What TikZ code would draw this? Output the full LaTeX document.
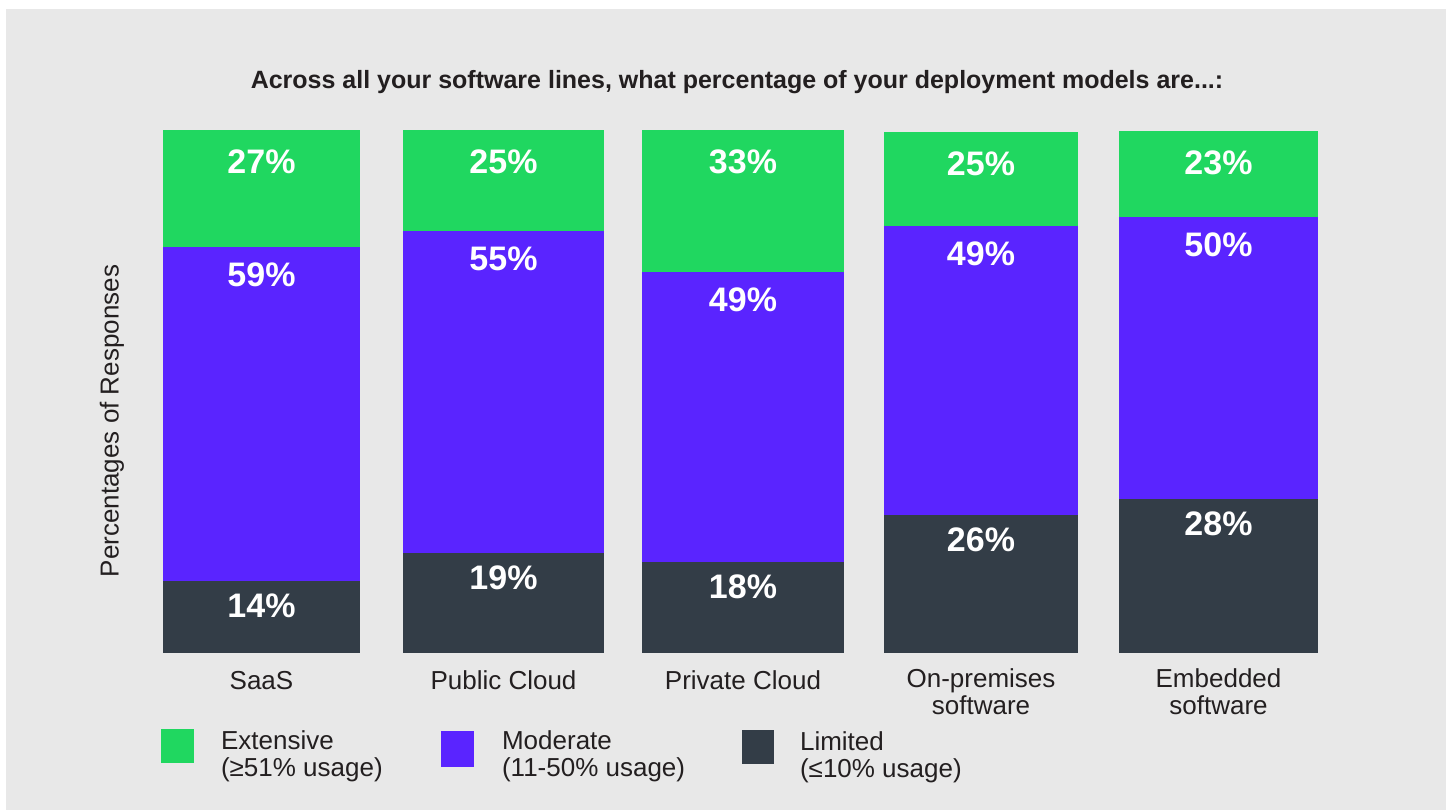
\documentclass[tikz,border=0pt]{standalone}
\usepackage{fontspec}
\setmainfont{Liberation Sans}
\definecolor{extgreen}{HTML}{20D760}
\definecolor{modpurple}{HTML}{5A24FF}
\definecolor{limgrey}{HTML}{333D47}
\definecolor{panel}{HTML}{E8E8E8}
\definecolor{ink}{HTML}{231F20}
\begin{document}
\begin{tikzpicture}[x=0.5pt,y=-0.5pt]
  \tikzstyle{pct}=[text=white,font=\fontsize{17}{17}\selectfont\bfseries]
  \tikzstyle{cat}=[text=ink,font=\fontsize{13}{13.5}\selectfont,align=center]
  \tikzstyle{key}=[text=ink,font=\fontsize{13}{13.5}\selectfont,align=left,anchor=west]
  \useasboundingbox (0,0) rectangle (1446,810);
  \fill[white] (0,0) rectangle (1446,810);
  \fill[panel] (6,9) rectangle (1446,810);
  \node[text=ink,font=\fontsize{12.5}{13}\selectfont\bfseries] (title) at (737,82)
    {Across all your software lines, what percentage of your deployment models are...:};
  \node[cat,rotate=90] (ylab) at (112,421) {Percentages of Responses};
  % bars: left/right/green top/purple top/dark top/values
  \foreach \l/\r/\g/\m/\d/\pg/\pm/\pd [count=\i] in
      {163/360/130/247/581/27/59/14, 403/604/130/231/553/25/55/19,
       642/844/130/272/562/33/49/18, 884/1078/132/226/515/25/49/26,
       1119/1318/131/217/499/23/50/28}
  {
    \fill[extgreen] (\l,\g) rectangle (\r,\m);
    \fill[modpurple] (\l,\m) rectangle (\r,\d);
    \fill[limgrey] (\l,\d) rectangle (\r,653);
    \node[pct] (ext-\i) at ({(\l+\r)/2},\g+32) {\pg\%};
    \node[pct] (mod-\i) at ({(\l+\r)/2},\m+28) {\pm\%};
    \node[pct] (lim-\i) at ({(\l+\r)/2},\d+25) {\pd\%};
    \coordinate (base-\i) at ({(\l+\r)/2},689);
  }
  \node[cat,anchor=base] (saas) at (base-1) {SaaS};
  \node[cat,anchor=base] (public) at (base-2) {Public Cloud};
  \node[cat,anchor=base] (private) at (base-3) {Private Cloud};
  \node[cat,anchor=base,yshift=-12.5pt] (onprem) at (base-4) {On-premises\\software};
  \node[cat,anchor=base,yshift=-12.5pt] (embedded) at (base-5) {Embedded\\software};
  % legend
  \fill[extgreen] (161,729) rectangle (194,763);
  \node[key] (extkey) at (214,756) {Extensive\\(≥51\% usage)};
  \fill[modpurple] (441,731) rectangle (474,767);
  \node[key] (modkey) at (495,756) {Moderate\\(11-50\% usage)};
  \fill[limgrey] (742,730) rectangle (774,764);
  \node[key] (limkey) at (793,757) {Limited\\(≤10\% usage)};
\end{tikzpicture}
\end{document}
